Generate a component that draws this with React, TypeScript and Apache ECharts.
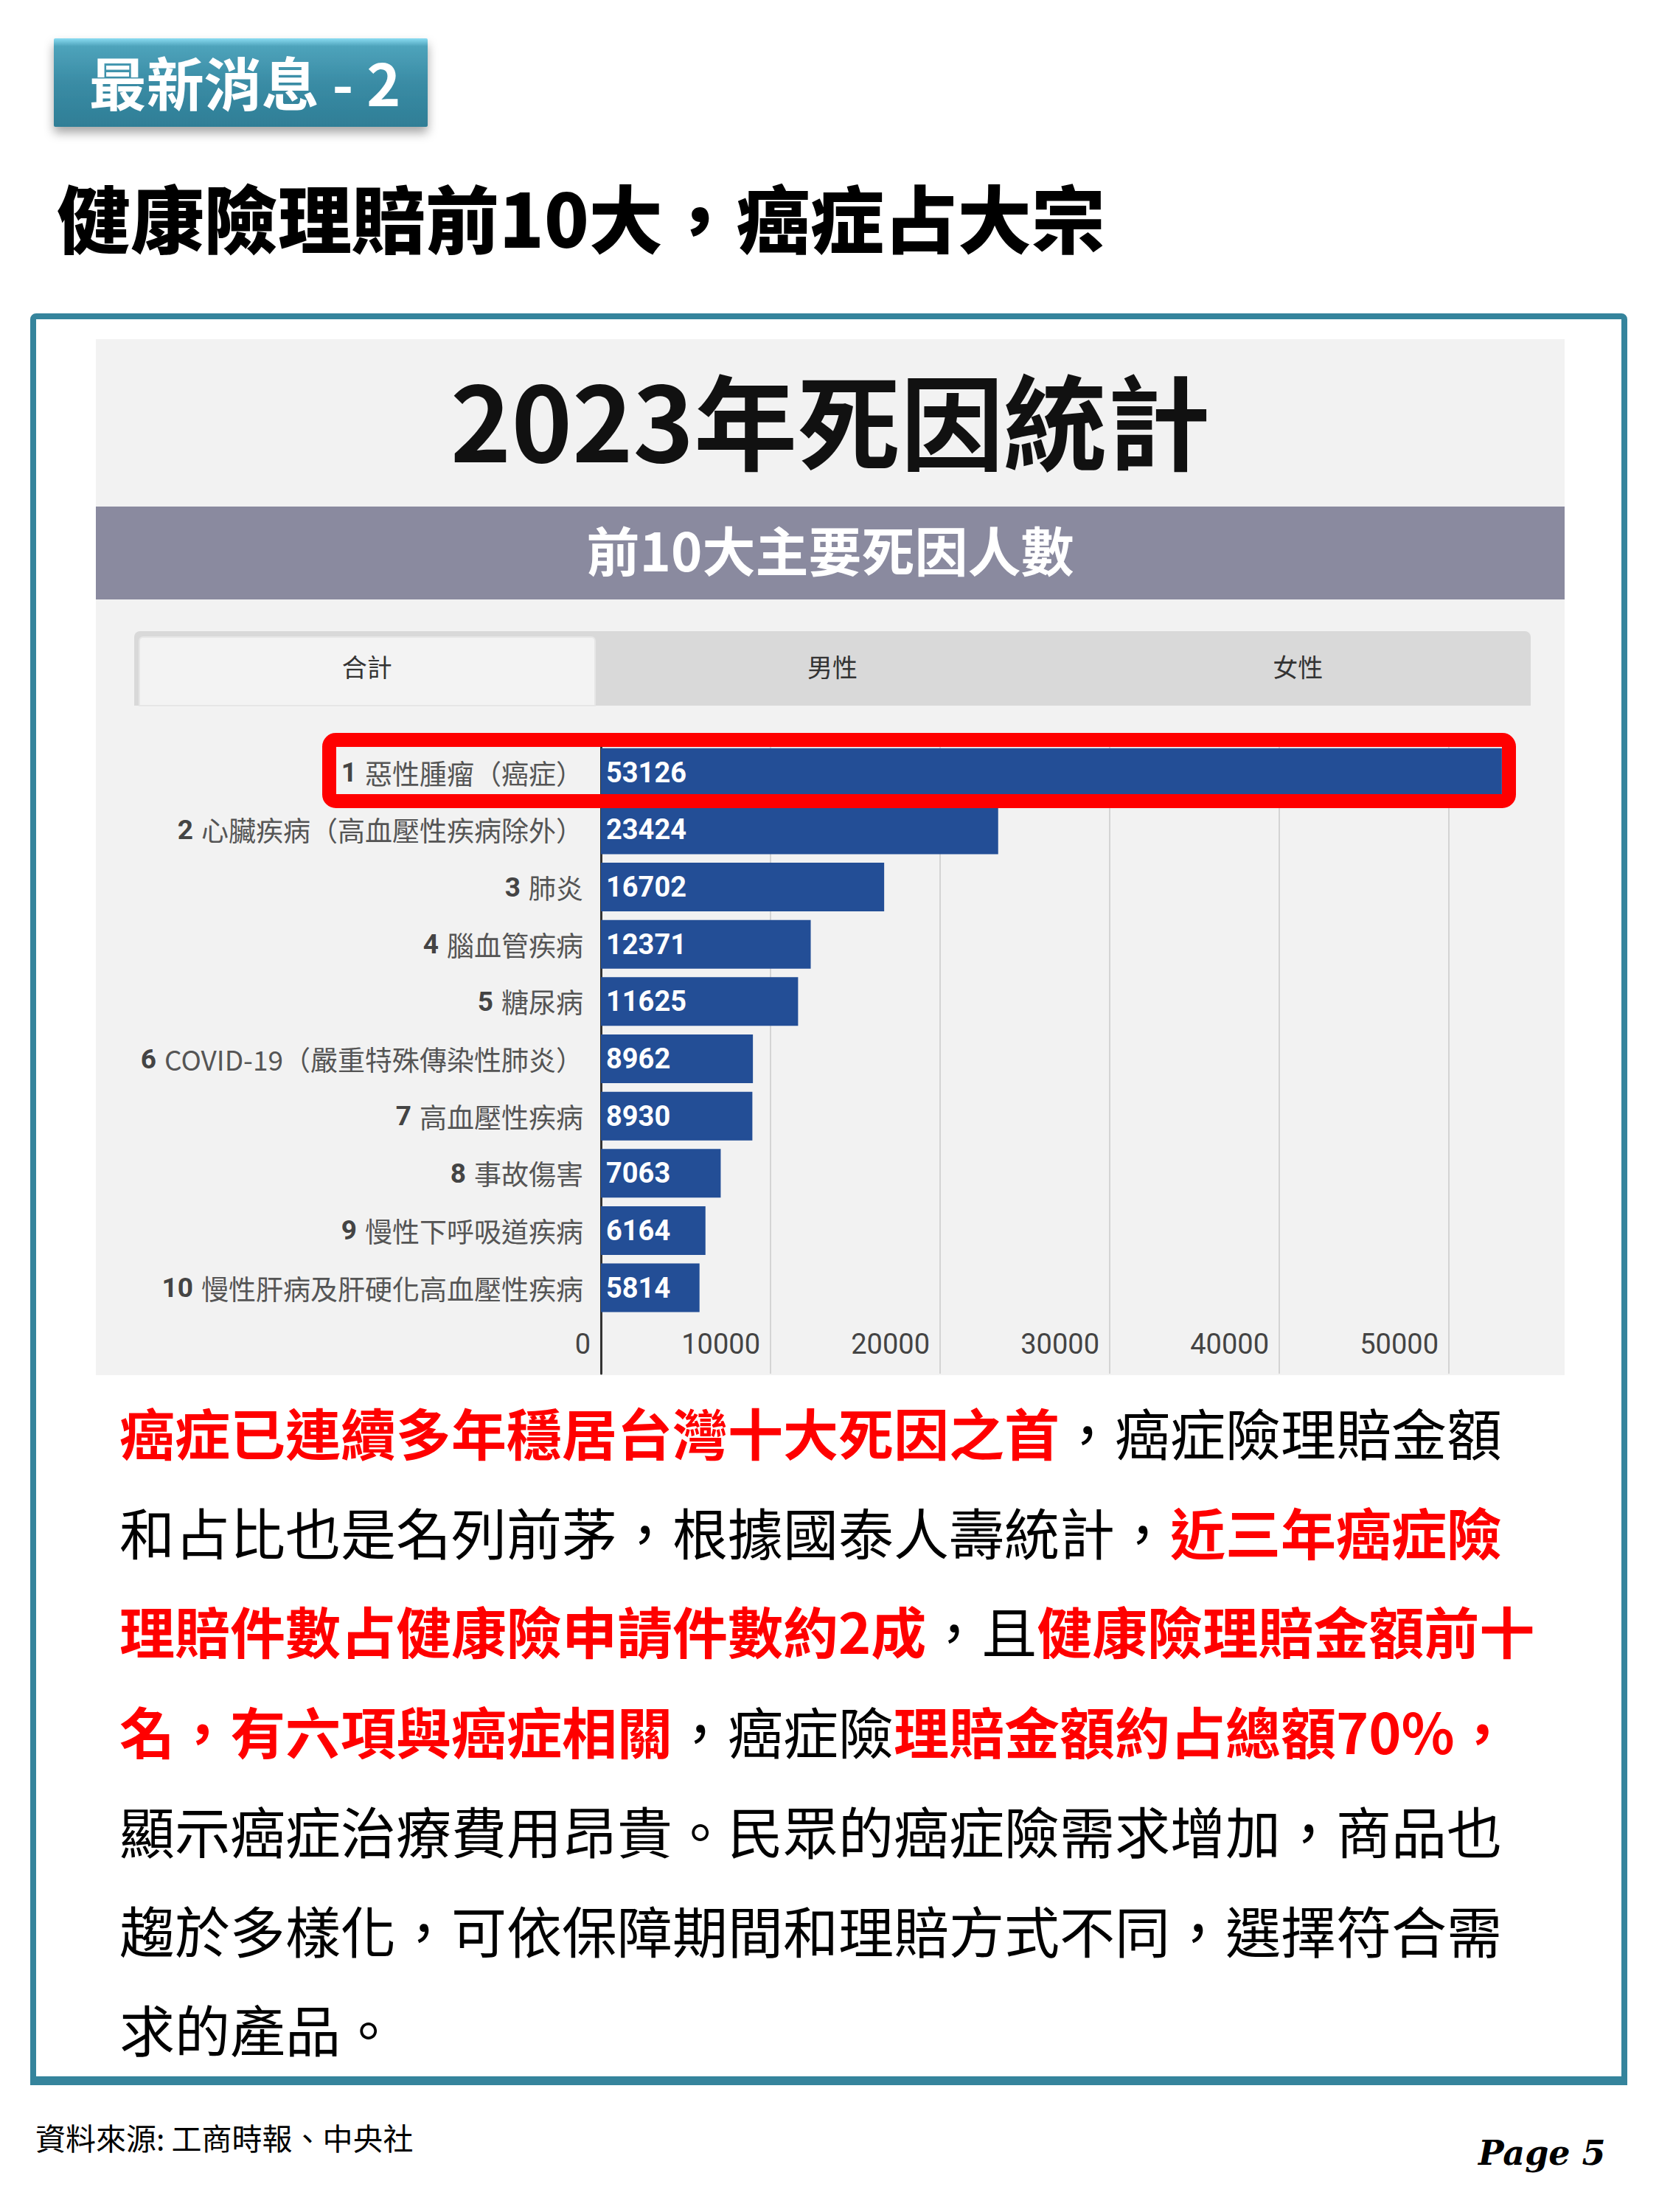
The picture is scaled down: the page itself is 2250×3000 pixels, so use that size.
import React, { useEffect, useRef } from "react";
import * as echarts from "echarts";

// ---- data ----
const ranks = ["1", "2", "3", "4", "5", "6", "7", "8", "9", "10"];
const causes = [
  "惡性腫瘤（癌症）",
  "心臟疾病（高血壓性疾病除外）",
  "肺炎",
  "腦血管疾病",
  "糖尿病",
  "COVID-19（嚴重特殊傳染性肺炎）",
  "高血壓性疾病",
  "事故傷害",
  "慢性下呼吸道疾病",
  "慢性肝病及肝硬化高血壓性疾病",
];
const deaths = [53126, 23424, 16702, 12371, 11625, 8962, 8930, 7063, 6164, 5814];
const xTicks = [0, 10000, 20000, 30000, 40000, 50000];
const xMax = 55000;
const tabs = ["合計", "男性", "女性"];

const badgeText = "最新消息 - 2";
const headline = "健康險理賠前10大，癌症占大宗";
const chartTitle = "2023年死因統計";
const chartSubtitle = "前10大主要死因人數";
const source = "資料來源: 工商時報、中央社";
const pageLabel = "Page 5";

// r = red bold, k = black regular
const paragraph: [string, string][][] = [
  [["r", "癌症已連續多年穩居台灣十大死因之首"], ["k", "，癌症險理賠金額"]],
  [["k", "和占比也是名列前茅，根據國泰人壽統計，"], ["r", "近三年癌症險"]],
  [["r", "理賠件數占健康險申請件數約2成"], ["k", "，且"], ["r", "健康險理賠金額前十"]],
  [["r", "名，有六項與癌症相關"], ["k", "，癌症險"], ["r", "理賠金額約占總額70%，"]],
  [["k", "顯示癌症治療費用昂貴。民眾的癌症險需求增加，商品也"]],
  [["k", "趨於多樣化，可依保障期間和理賠方式不同，選擇符合需"]],
  [["k", "求的產品。"]],
];

const CJK = '"Noto Sans CJK TC", "Noto Sans CJK SC", sans-serif';
const NUM = 'Roboto, "Noto Sans CJK TC", sans-serif';
const TEAL = "#35849c";

export default function App() {
  const ref = useRef<HTMLDivElement>(null);

  useEffect(() => {
    if (!ref.current) return;
    const chart = echarts.init(ref.current, null, { renderer: "svg", width: 2250, height: 3000 });

    const yData = [...ranks.map((r, i) => `${r} ${causes[i]}`), ""];

    const paraLineY = [1941, 2076, 2210, 2346, 2481, 2616, 2750];
    const paraEls = paragraph.map((segs, i) => ({
      type: "text",
      x: 162,
      y: paraLineY[i],
      z: 10,
      style: {
        text: segs.map(([k, t]) => `{${k}|${t}}`).join(""),
        align: "left",
        verticalAlign: "middle",
        rich: {
          r: { fill: "#ff0000", fontWeight: "bold", fontSize: 75, fontFamily: CJK },
          k: { fill: "#000000", fontWeight: "normal", fontSize: 75, fontFamily: CJK },
        },
      },
    }));

    const tabX = 182;
    const tabTotalW = 1894;
    const tabW = tabTotalW / 3;
    const tabEls = tabs.map((t, i) => ({
      type: "text",
      x: tabX + tabW * (i + 0.5),
      y: 903,
      z: 10,
      style: {
        text: t,
        fontSize: 34,
        fontFamily: CJK,
        fill: "#333333",
        align: "center",
        verticalAlign: "middle",
      },
    }));

    const option: any = {
      animation: false,
      backgroundColor: "#ffffff",
      grid: {
        left: 815,
        width: 1265,
        top: 1009,
        height: 854,
        containLabel: false,
      },
      xAxis: {
        type: "value",
        min: 0,
        max: xMax,
        interval: 10000,
        position: "bottom",
        axisLine: { show: false },
        axisTick: { show: false },
        splitLine: {
          show: true,
          showMaxLine: false,
          lineStyle: {
            color: ["#d4d4d4", "#d4d4d4", "#d4d4d4", "#d4d4d4", "#d4d4d4", "#d4d4d4", "rgba(0,0,0,0)"],
            width: 2,
          },
        },
        axisLabel: {
          inside: true,
          margin: 40,
          showMaxLabel: false,
          align: "right",
          verticalAlign: "middle",
          padding: [0, 14, 0, 0],
          fontSize: 38,
          fontFamily: NUM,
          color: "#444444",
          formatter: (v: number) => (xTicks.includes(v) ? String(v) : ""),
        },
      },
      yAxis: {
        type: "category",
        inverse: true,
        data: yData,
        axisLine: { show: true, lineStyle: { color: "#333333", width: 3 } },
        axisTick: { show: false },
        splitLine: { show: false },
        axisLabel: {
          interval: 0,
          margin: 24,
          formatter: (v: string) => {
            if (!v) return "";
            const sp = v.indexOf(" ");
            return `{n|${v.slice(0, sp)}}{t|${v.slice(sp + 1)}}`;
          },
          rich: {
            n: { fontSize: 37, fontWeight: "bold", fontFamily: NUM, color: "#444444", padding: [0, 11, 0, 0] },
            t: { fontSize: 37, fontFamily: CJK, color: "#555555" },
          },
        },
      },
      series: [
        {
          type: "bar",
          data: deaths,
          barWidth: 66,
          itemStyle: { color: "#234e96" },
          z: 2,
          label: {
            show: true,
            position: "insideLeft",
            distance: 7,
            color: "#ffffff",
            fontSize: 38,
            fontWeight: "bold",
            fontFamily: NUM,
            formatter: (p: any) => String(p.value),
          },
        },
      ],
      graphic: {
        elements: [
          // badge
          {
            type: "rect",
            z: 5,
            shape: { x: 73, y: 52, width: 507, height: 120, r: 2 },
            style: {
              fill: new echarts.graphic.LinearGradient(0, 0, 0, 1, [
                { offset: 0, color: "#8adcf2" },
                { offset: 0.09, color: "#4ea3bb" },
                { offset: 0.5, color: "#3a8ca5" },
                { offset: 1, color: "#2f7e96" },
              ]),
              shadowBlur: 14,
              shadowOffsetY: 8,
              shadowColor: "rgba(0,0,0,0.35)",
            },
          },
          {
            type: "text",
            x: 332,
            y: 110,
            z: 10,
            style: {
              text: badgeText,
              fontSize: 78,
              fontWeight: "bold",
              fontFamily: CJK,
              fill: "#ffffff",
              align: "center",
              verticalAlign: "middle",
              shadowBlur: 4,
              shadowOffsetY: 2,
              shadowColor: "rgba(0,0,0,0.45)",
            },
          },
          // headline
          {
            type: "text",
            x: 77,
            y: 292,
            z: 10,
            style: {
              text: headline,
              fontSize: 100,
              fontWeight: 900,
              fontFamily: CJK,
              fill: "#000000",
              align: "left",
              verticalAlign: "middle",
            },
          },
          // frame
          {
            type: "rect",
            z: -30,
            shape: { x: 45, y: 429, width: 2158, height: 2394, r: 4 },
            style: { fill: "#ffffff", stroke: TEAL, lineWidth: 8 },
          },
          {
            type: "rect",
            z: -29,
            shape: { x: 41, y: 2816, width: 2166, height: 12 },
            style: { fill: TEAL },
          },
          // chart panel
          {
            type: "rect",
            z: -20,
            shape: { x: 130, y: 460, width: 1992, height: 1405 },
            style: { fill: "#f2f2f2" },
          },
          {
            type: "text",
            x: 1126,
            y: 566,
            z: 10,
            style: {
              text: chartTitle,
              fontSize: 140,
              fontWeight: "bold",
              fontFamily: CJK,
              fill: "#111111",
              align: "center",
              verticalAlign: "middle",
            },
          },
          {
            type: "rect",
            z: -15,
            shape: { x: 130, y: 687, width: 1992, height: 126 },
            style: { fill: "#8a8a9f" },
          },
          {
            type: "text",
            x: 1126,
            y: 743,
            z: 10,
            style: {
              text: chartSubtitle,
              fontSize: 72,
              fontWeight: "bold",
              fontFamily: CJK,
              fill: "#ffffff",
              align: "center",
              verticalAlign: "middle",
            },
          },
          // tabs
          {
            type: "rect",
            z: -15,
            shape: { x: tabX, y: 856, width: tabTotalW, height: 101, r: [8, 8, 0, 0] },
            style: { fill: "#d9d9d9" },
          },
          {
            type: "rect",
            z: -14,
            shape: { x: 189, y: 864, width: 618, height: 93, r: [5, 5, 0, 0] },
            style: { fill: "#f3f3f3", stroke: "#e6e6e6", lineWidth: 2 },
          },
          ...tabEls,
          // highlight box
          {
            type: "rect",
            z: 100,
            shape: { x: 446.5, y: 1003.5, width: 1600, height: 83, r: 9 },
            style: { fill: "none", stroke: "#ff0000", lineWidth: 19 },
          },
          ...paraEls,
          // footer
          {
            type: "text",
            x: 48,
            y: 2898,
            z: 10,
            style: {
              text: source,
              fontSize: 41,
              fontFamily: CJK,
              fill: "#000000",
              align: "left",
              verticalAlign: "middle",
            },
          },
          {
            type: "text",
            x: 2005,
            y: 2920,
            z: 10,
            style: {
              text: pageLabel,
              fontSize: 46,
              fontWeight: "bold",
              fontStyle: "italic",
              fontFamily: '"DejaVu Serif", serif',
              fill: "#000000",
              align: "left",
              verticalAlign: "middle",
            },
          },
        ],
      },
    };

    chart.setOption(option);
    return () => chart.dispose();
  }, []);

  return (
    <div
      ref={ref}
      style={{ position: "absolute", left: 0, top: 0, width: 2250, height: 3000, background: "#ffffff" }}
    />
  );
}
